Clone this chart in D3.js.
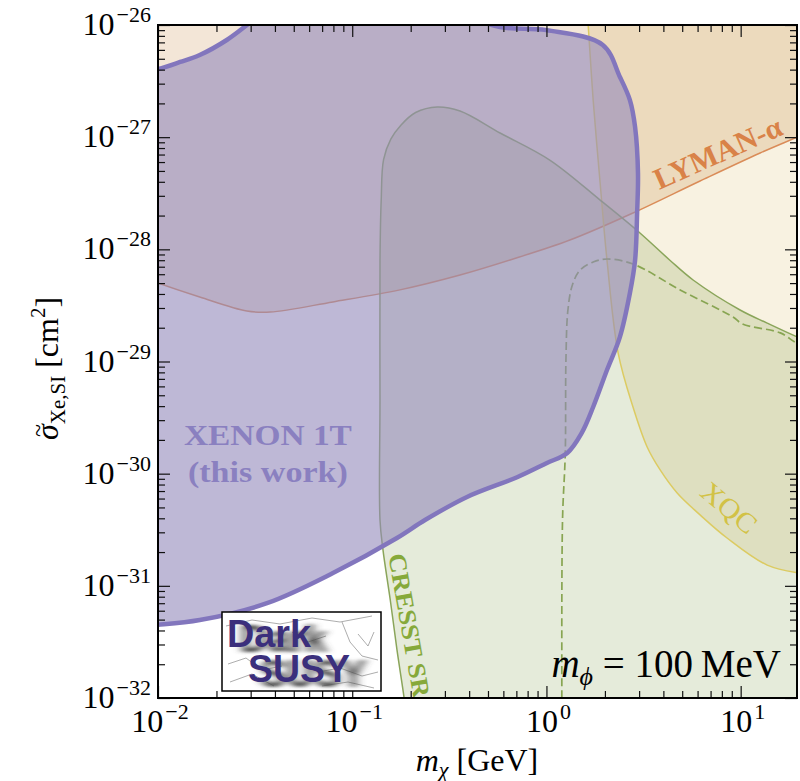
<!DOCTYPE html>
<html>
<head>
<meta charset="utf-8">
<script src="https://cdn.jsdelivr.net/npm/d3@7"></script>
<style>
body { margin: 0; background: #fff; }
text { font-family: "Liberation Serif", "Times New Roman", serif; white-space: pre; }
</style>
</head>
<body>
<svg id="chart" width="800" height="781"></svg>
<script>
// values: [m_chi (GeV), sigma (cm^2)]
var xenonEdge = [
    [0.0081, 4.4e-32], [0.0100, 4.5e-32], [0.0164, 4.95e-32], [0.0364, 7.0e-32],
    [0.0796, 1.30e-31], [0.170, 2.67e-31], [0.237, 3.86e-31], [0.390, 6.2e-31],
    [0.706, 9.3e-31], [1.00, 1.24e-30], [1.28, 1.53e-30], [1.52, 2.31e-30],
    [1.74, 3.93e-30], [2.05, 8.4e-30], [2.39, 1.66e-29], [2.69, 4.08e-29],
    [2.86, 8.0e-29], [2.93, 2.11e-28], [2.96, 4.8e-28], [2.86, 1.23e-27],
    [2.69, 2.14e-27], [2.39, 3.44e-27], [1.95, 6.64e-27], [1.00, 9.0e-27],
    [0.525, 1.0e-26], [0.22, 2.5e-26], [0.055, 2.5e-26], [0.0287, 1.0e-26],
    [0.0226, 7.35e-27], [0.0164, 5.40e-27], [0.0130, 4.68e-27], [0.0100, 4.05e-27],
    [0.0081, 3.8e-27]
];
var lymanEdge = [
    [0.0081, 5.78e-29], [0.0100, 5.01e-29], [0.0164, 3.76e-29], [0.0287, 2.82e-29],
    [0.0378, 2.76e-29], [0.0796, 3.40e-29], [0.176, 4.35e-29], [0.359, 5.90e-29],
    [0.650, 8.04e-29], [1.32, 1.21e-28], [2.79, 2.11e-28], [6.18, 4.07e-28],
    [12.6, 7.23e-28], [19.5, 1.0e-27], [25.6, 1.23e-27]
];
var xqcEdge = [
    [1.60, 1.67e-26], [1.64, 1.0e-26], [1.74, 2.14e-27], [1.89, 3.90e-28],
    [2.05, 8.0e-29], [2.34, 1.19e-29], [2.79, 3.93e-30], [3.30, 1.73e-30],
    [3.85, 1.08e-30], [4.71, 6.73e-31], [6.18, 4.29e-31], [8.51, 2.67e-31],
    [13.7, 1.53e-31], [20.2, 1.30e-31], [25.6, 1.25e-31]
];
var cresstEdge = [
    [0.189, 7.1e-33], [0.185, 1.0e-32], [0.170, 2.68e-32], [0.157, 7.48e-32],
    [0.144, 2.09e-31], [0.139, 3.86e-31], [0.139, 4.54e-30], [0.139, 8.0e-29],
    [0.141, 2.75e-28], [0.145, 6.3e-28], [0.158, 9.6e-28], [0.178, 1.28e-27],
    [0.212, 1.66e-27], [0.274, 1.86e-27], [0.359, 1.71e-27], [0.577, 1.09e-27],
    [1.04, 6.25e-28], [1.89, 2.75e-28], [3.03, 1.40e-28], [4.32, 8.0e-29],
    [5.69, 5.33e-29], [9.93, 2.88e-29], [13.7, 2.20e-29], [19.5, 1.66e-29],
    [25.6, 1.37e-29]
];
var cresstDashed = [
    [1.20, 7.8e-33], [1.20, 1.0e-32], [1.21, 3.86e-31], [1.25, 1.53e-30],
    [1.26, 1.03e-29], [1.29, 2.88e-29], [1.36, 4.81e-29], [1.49, 6.54e-29],
    [1.74, 7.71e-29], [2.05, 8.20e-29], [2.79, 7.40e-29], [4.88, 4.35e-29],
    [9.14, 2.49e-29], [10.2, 2.16e-29], [16.0, 1.80e-29], [19.5, 1.46e-29],
    [25.6, 1.27e-29]
];
var xTicks = [1e-2, 1e-1, 1, 10];
var xTickExp = ["\u22122", "\u22121", "0", "1"];
var yTicks = [1e-26, 1e-27, 1e-28, 1e-29, 1e-30, 1e-31, 1e-32];
var yTickExp = ["\u221226", "\u221227", "\u221228", "\u221229", "\u221230", "\u221231", "\u221232"];

var svg = d3.select("#chart");
var pL = 158, pR = 797, pT = 25, pB = 698;

var x = d3.scaleLog().domain([0.01, 19.5]).range([pL, pR]);
var y = d3.scaleLog().domain([1e-32, 1e-26]).range([pB, pT]);

svg.append("rect").attr("width", 800).attr("height", 781).attr("fill", "#fff");

var defs = svg.append("defs");
defs.append("clipPath").attr("id", "plotclip")
    .append("rect").attr("x", pL).attr("y", pT)
    .attr("width", pR - pL).attr("height", pB - pT);

var line = d3.line()
    .x(function(d) { return x(d[0]); })
    .y(function(d) { return y(d[1]); })
    .curve(d3.curveCatmullRom.alpha(0.5));

function region(edge, corners) {
    return line(edge) + corners.map(function(p) {
        return "L" + x(p[0]) + "," + y(p[1]);
    }).join("") + "Z";
}

var plot = svg.append("g").attr("clip-path", "url(#plotclip)");
plot.append("rect").attr("x", pL).attr("y", pT)
    .attr("width", pR - pL).attr("height", pB - pT).attr("fill", "#fff");

// excluded regions, blended like overlapping translucent fills
plot.append("path").attr("d", region(lymanEdge, [[25.6, 3e-26], [0.0081, 3e-26]]))
    .attr("fill", "#f3e6d7").style("mix-blend-mode", "multiply");
plot.append("path").attr("d", region(xqcEdge, [[25.6, 3e-26], [1.6, 3e-26]]))
    .attr("fill", "#f8f2e1").style("mix-blend-mode", "multiply");
plot.append("path").attr("d", region(cresstEdge, [[25.6, 7.1e-33]]))
    .attr("fill", "#e5ebda").style("mix-blend-mode", "multiply");

plot.append("path").attr("d", line(lymanEdge))
    .attr("fill", "none").attr("stroke", "#da8c58").attr("stroke-width", 1.5);
plot.append("path").attr("d", line(xqcEdge))
    .attr("fill", "none").attr("stroke", "#dccb62").attr("stroke-width", 1.5);
plot.append("path").attr("d", line(cresstEdge))
    .attr("fill", "none").attr("stroke", "#8aa55a").attr("stroke-width", 1.5);
plot.append("path").attr("d", line(cresstDashed))
    .attr("fill", "none").attr("stroke", "#88a552").attr("stroke-width", 1.7)
    .attr("stroke-dasharray", "8,4");

// XENON 1T
plot.append("path").attr("d", line(xenonEdge) + "Z")
    .attr("fill", "#9389bb").attr("fill-opacity", 0.6);
plot.append("path").attr("d", line(xenonEdge) + "Z")
    .attr("fill", "none").attr("stroke", "#8276bd").attr("stroke-width", 4.5)
    .attr("stroke-linejoin", "round");

// region labels
function label(m, s, angle, txt, opts) {
    var t = svg.append("text")
        .attr("transform", "translate(" + x(m) + "," + y(s) + ") rotate(" + angle + ")")
        .attr("text-anchor", "middle")
        .attr("fill", opts.color)
        .style("font-size", opts.size + "px")
        .style("font-weight", opts.bold ? "bold" : "normal")
        .text(txt);
    if (opts.len) t.attr("textLength", opts.len).attr("lengthAdjust", "spacingAndGlyphs");
    return t;
}
label(8.0, 6.0e-28, -24, "LYMAN-\u03b1", {color: "#d98248", size: 30, bold: true, len: 137});
label(8.1, 4.28e-31, 40, "XQC", {color: "#d2c245", size: 28, bold: false, len: 64});
label(0.178, 4.3e-32, 80, "CRESST SR", {color: "#86a93a", size: 25, bold: true, len: 146});
label(0.0368, 1.80e-30, 0, "XENON 1T", {color: "#8a80c0", size: 30, bold: true, len: 168});
label(0.0368, 8.43e-31, 0, "(this work)", {color: "#8a80c0", size: 30, bold: true, len: 160});

// ticks on all four sides, pointing inwards
function minors(lo, hi, maxv) {
    var out = [];
    for (var e = lo; e <= hi; e++)
        for (var k = 2; k <= 9; k++) {
            var v = k * Math.pow(10, e);
            if (v < maxv) out.push(v);
        }
    return out;
}
var xMinor = minors(-2, 1, 19.5);
var yMinor = minors(-32, -27, 1e-26);

function ticks(axis, vals, size, tr) {
    var g = svg.append("g").attr("transform", tr)
        .call(axis.tickValues(vals).tickSize(-size).tickFormat(""));
    g.select(".domain").remove();
    g.selectAll("line").attr("stroke", "#111").attr("stroke-width", 1.2);
}
ticks(d3.axisBottom(x), xTicks, 12, "translate(0," + pB + ")");
ticks(d3.axisBottom(x), xMinor, 7, "translate(0," + pB + ")");
ticks(d3.axisTop(x), xTicks, 12, "translate(0," + pT + ")");
ticks(d3.axisTop(x), xMinor, 7, "translate(0," + pT + ")");
ticks(d3.axisLeft(y), yTicks, 12, "translate(" + pL + ",0)");
ticks(d3.axisLeft(y), yMinor, 7, "translate(" + pL + ",0)");
ticks(d3.axisRight(y), yTicks, 12, "translate(" + pR + ",0)");
ticks(d3.axisRight(y), yMinor, 7, "translate(" + pR + ",0)");

svg.append("rect").attr("x", pL).attr("y", pT)
    .attr("width", pR - pL).attr("height", pB - pT)
    .attr("fill", "none").attr("stroke", "#000").attr("stroke-width", 2);

// tick labels
function powLabel(t, exp) {
    t.append("tspan").text("10");
    t.append("tspan").attr("dx", 2).attr("dy", -13).style("font-size", "22px").text(exp);
}
yTicks.forEach(function(v, i) {
    var t = svg.append("text").attr("x", pL - 7).attr("y", y(v) + 10)
        .attr("text-anchor", "end").style("font-size", "32px");
    powLabel(t, yTickExp[i]);
});
xTicks.forEach(function(v, i) {
    var t = svg.append("text").attr("x", x(v) + 2).attr("y", pB + 34)
        .attr("text-anchor", "middle").style("font-size", "32px");
    powLabel(t, xTickExp[i]);
});

// axis titles
var xl = svg.append("text").attr("x", 477).attr("y", 771)
    .attr("text-anchor", "middle").style("font-size", "32px");
xl.append("tspan").style("font-style", "italic").text("m");
xl.append("tspan").attr("dy", 6).style("font-size", "22px").style("font-style", "italic").text("\u03c7");
xl.append("tspan").attr("dy", -6).text(" [GeV]");

var yl = svg.append("text").attr("transform", "translate(58,440) rotate(-90)")
    .attr("text-anchor", "start").style("font-size", "32px");
yl.append("tspan").style("font-style", "italic").text("\u03c3");
yl.append("tspan").attr("dy", 7).style("font-size", "21px").text("Xe,SI");
yl.append("tspan").attr("dy", -7).text(" [cm");
yl.append("tspan").attr("dy", -13).style("font-size", "21px").text("2");
yl.append("tspan").attr("dy", 13).text("]");
svg.append("text").attr("transform", "translate(58,440) rotate(-90)")
    .attr("x", 3).attr("y", -12).style("font-size", "24px").text("~");

// m_phi annotation
var mp = svg.append("text").attr("x", 781).attr("y", 677)
    .attr("text-anchor", "end").style("font-size", "39px");
mp.append("tspan").style("font-style", "italic").text("m");
mp.append("tspan").attr("dy", 8).style("font-size", "26px").style("font-style", "italic").text("\u03d5");
mp.append("tspan").attr("dy", -8).text(" = 100\u2009MeV");

// DarkSUSY logo
defs.append("filter").attr("id", "smear").attr("x", "-20%").attr("y", "-20%")
    .attr("width", "160%").attr("height", "160%")
    .append("feGaussianBlur").attr("stdDeviation", "5 1.5");
var logo = svg.append("g").attr("transform", "translate(222,612)");
logo.append("rect").attr("width", 159).attr("height", 79).attr("fill", "#fff");
var sketch = [
    [[4, 14], [30, 8], [58, 12], [90, 6], [118, 10], [150, 4]],
    [[120, 10], [128, 30], [140, 44], [156, 48]],
    [[6, 52], [24, 46], [40, 58], [60, 54]],
    [[8, 70], [30, 62], [52, 74]],
    [[96, 60], [118, 56], [140, 64], [156, 60]],
    [[100, 74], [126, 70], [152, 76]],
    [[70, 20], [86, 30], [104, 24]],
    [[136, 22], [146, 34], [152, 20]]
];
sketch.forEach(function(s) {
    logo.append("path").attr("d", d3.line()(s))
        .attr("fill", "none").attr("stroke", "#8a8a8a").attr("stroke-width", 0.7);
});
var sans = "Liberation Sans, Arial, sans-serif";
logo.append("text").attr("x", 18).attr("y", 40).attr("fill", "#4a4a4a")
    .attr("filter", "url(#smear)").style("font-family", sans)
    .style("font-weight", "bold").style("font-size", "39px").text("Dark");
logo.append("text").attr("x", 38).attr("y", 75).attr("fill", "#4a4a4a")
    .attr("filter", "url(#smear)").style("font-family", sans)
    .style("font-weight", "bold").style("font-size", "39px").text("SUSY");
logo.append("text").attr("x", 5).attr("y", 35).attr("fill", "#3b2f7c")
    .style("font-family", sans).attr("textLength", 84).attr("lengthAdjust", "spacingAndGlyphs")
    .style("font-weight", "bold").style("font-size", "39px").text("Dark");
logo.append("text").attr("x", 26).attr("y", 70).attr("fill", "#3b2f7c")
    .style("font-family", sans).attr("textLength", 102).attr("lengthAdjust", "spacingAndGlyphs")
    .style("font-weight", "bold").style("font-size", "39px").text("SUSY");
logo.append("rect").attr("width", 159).attr("height", 79)
    .attr("fill", "none").attr("stroke", "#000").attr("stroke-width", 1.5);
</script>
</body>
</html>
